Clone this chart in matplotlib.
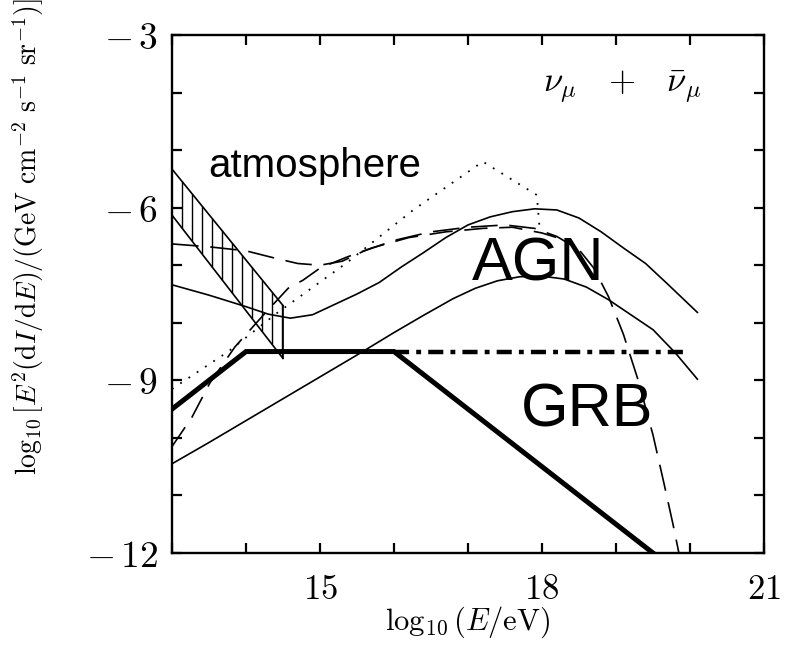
import numpy as np
import matplotlib
matplotlib.use("Agg")
import matplotlib.pyplot as plt
from matplotlib.ticker import MultipleLocator, FuncFormatter

plt.rcParams['mathtext.fontset'] = 'cm'
plt.rcParams['font.family'] = ['DejaVu Serif']

# GRB broken power law and its unbroken continuation
grb_x = [13.0, 14.0, 16.0, 19.5]
grb_y = [-9.5, -8.5, -8.5, -12.0]
grb_flat_x = [16.0, 20.0]
grb_flat_y = [-8.5, -8.5]

# AGN models (solid)
agn_hi_x = [13.0, 13.5, 14.0, 14.3, 14.6, 14.9, 15.2, 15.5, 15.8, 16.1, 16.4, 16.7,
            17.0, 17.3, 17.6, 17.9, 18.2, 18.5, 18.8, 19.1, 19.4, 19.7, 20.1]
agn_hi_y = [-7.34, -7.52, -7.72, -7.85, -7.92, -7.86, -7.68, -7.5, -7.3, -7.03, -6.78, -6.52,
            -6.3, -6.16, -6.07, -6.02, -6.04, -6.18, -6.42, -6.7, -6.97, -7.33, -7.82]
agn_lo_x = [13.0, 13.5, 14.0, 14.5, 15.0, 15.5, 16.0, 16.4, 16.8, 17.1, 17.4, 17.7,
            18.0, 18.3, 18.6, 18.9, 19.2, 19.5, 19.8, 20.1]
agn_lo_y = [-10.45, -10.08, -9.7, -9.32, -8.94, -8.56, -8.17, -7.87, -7.58, -7.4, -7.27, -7.2,
            -7.19, -7.24, -7.38, -7.6, -7.86, -8.12, -8.52, -8.98]

# AGN models (dashed)
agn_d1_x = [13.0, 13.5, 14.0, 14.4, 14.7, 15.0, 15.3, 15.6, 16.0, 16.5, 17.0, 17.5, 17.9,
            18.2, 18.5, 18.7, 18.9, 19.1, 19.3, 19.5, 19.65, 19.77, 19.85]
agn_d1_y = [-6.63, -6.68, -6.75, -6.88, -6.97, -7.0, -6.93, -6.75, -6.57, -6.42, -6.34, -6.3, -6.36,
            -6.5, -6.73, -7.05, -7.55, -8.2, -9.0, -9.95, -10.8, -11.5, -12.0]
agn_d2_x = [13.0, 13.27, 13.51, 13.85, 14.26, 14.57, 14.77, 15.0, 15.36, 15.7, 16.2, 16.7,
            17.2, 17.6, 18.0, 18.2]
agn_d2_y = [-10.15, -9.64, -9.05, -8.42, -7.83, -7.4, -7.26, -7.05, -6.86, -6.7, -6.52, -6.42,
            -6.36, -6.34, -6.44, -6.52]

# dotted model
dot_x = [13.0, 13.76, 14.42, 15.36, 16.26, 17.2, 17.93, 17.97]
dot_y = [-9.15, -8.5, -7.83, -6.96, -6.04, -5.2, -5.78, -6.4]

# atmospheric background band
atm_x = [13.0, 14.5]
atm_top = [-5.33, -7.7]
atm_bot = [-6.13, -8.62]

fig = plt.figure(figsize=(7.88, 6.46), dpi=100)
ax = fig.add_axes([172 / 788, 93 / 646, 592 / 788, 518 / 646])

thin = 1.2
ax.plot(agn_hi_x, agn_hi_y, color='black', lw=thin)
ax.plot(agn_lo_x, agn_lo_y, color='black', lw=thin)
ax.plot(agn_d1_x, agn_d1_y, color='black', lw=thin, ls=(0, (16, 7)))
ax.plot(agn_d2_x, agn_d2_y, color='black', lw=thin, ls=(0, (14, 7)))
ax.plot(dot_x, dot_y, color='black', lw=1.3, ls=(0, (1, 4.5)))

# band outline + vertical hatching
ax.plot(atm_x, atm_top, color='black', lw=thin)
ax.plot(atm_x, atm_bot, color='black', lw=thin)
ax.plot([atm_x[1], atm_x[1]], [atm_top[1], atm_bot[1]], color='black', lw=thin)
hx = np.arange(13.135, atm_x[1], 0.135)
ax.vlines(hx, np.interp(hx, atm_x, atm_bot), np.interp(hx, atm_x, atm_top),
          color='black', lw=1.0)

ax.plot(grb_flat_x, grb_flat_y, color='black', lw=3.2, ls=(0, (3.4, 1.6, 1.1, 1.6)),
        solid_capstyle='butt')
ax.plot(grb_x, grb_y, color='black', lw=3.6, solid_joinstyle='miter')

ax.text(13.49, -5.47, 'atmosphere', family='Liberation Sans', fontsize=29, va='baseline')
ax.text(17.05, -7.26, 'AGN', family='Liberation Sans', fontsize=44, va='baseline')
ax.text(17.72, -9.81, 'GRB', family='Liberation Sans', fontsize=44, va='baseline')
ax.text(20.16, -3.99, r'$\nu_\mu\;\;\;+\;\;\;\bar{\nu}_\mu$', fontsize=25, ha='right', va='baseline')

ax.set_xlim(13, 21)
ax.set_ylim(-12, -3)
ax.xaxis.set_major_locator(MultipleLocator(1))
ax.yaxis.set_major_locator(MultipleLocator(1))


def lab(v, pos):
    v = int(round(v))
    if v % 3:
        return ''
    if v < 0:
        return r'$-\,%d$' % (-v)
    return r'$%d$' % v


ax.xaxis.set_major_formatter(FuncFormatter(lab))
ax.yaxis.set_major_formatter(FuncFormatter(lab))
ax.tick_params(which='both', direction='in', top=True, right=True, length=7, width=1.6)
ax.tick_params(axis='x', pad=14, labelsize=25)
ax.tick_params(axis='y', pad=10, labelsize=27)
for s in ax.spines.values():
    s.set_linewidth(1.7)

ax.set_xlabel(r'$\log_{10}(E/\mathrm{eV})$', fontsize=22)
ax.xaxis.set_label_coords(0.5, -0.1)
ax.set_ylabel(r'$\log_{10}[E^2(\mathrm{d}I/\mathrm{d}E)/(\mathrm{GeV\ cm^{-2}\ s^{-1}\ sr^{-1}})]$',
              fontsize=20)
ax.yaxis.set_label_coords(-0.212, 0.61)

fig.savefig('out.png', dpi=100)
